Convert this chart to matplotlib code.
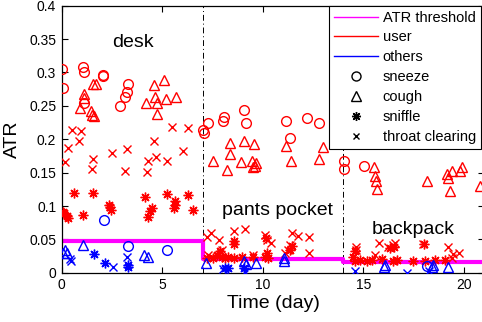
import matplotlib
matplotlib.use("Agg")
import matplotlib.pyplot as plt
from matplotlib.lines import Line2D
from matplotlib.ticker import FuncFormatter

plt.rcParams["font.family"] = ["Liberation Sans", "DejaVu Sans"]

# ── data (x: day, y: ATR) ────────────────────────────────────────
user_sneeze_x = [0.0, 0.05, 1.07, 1.11, 1.12, 2.04, 2.06, 2.9, 3.15, 3.23, 3.28,
                 7.04, 7.09, 7.26, 8.03, 8.08, 9.08, 9.15, 11.15, 11.35, 12.2, 12.8,
                 14.05, 14.05, 15.04]
user_sneeze_y = [0.305, 0.277, 0.308, 0.300, 0.254, 0.294, 0.296, 0.250, 0.264, 0.271, 0.283,
                 0.214, 0.209, 0.225, 0.228, 0.234, 0.244, 0.224, 0.228, 0.202, 0.232, 0.225,
                 0.168, 0.155, 0.160]

user_cough_x = [0.91, 1.09, 1.12, 1.44, 1.49, 1.61, 1.54, 1.7, 4.19, 4.59, 4.64, 4.72, 4.72,
                5.1, 5.17, 5.67,
                7.54, 8.37, 8.37, 8.23, 9.08, 9.57, 8.9, 9.47, 9.66, 9.52, 9.61, 11.15, 11.38,
                12.8, 13.0,
                15.52, 15.57, 15.6, 15.65, 18.14, 19.13, 19.22, 19.3, 19.38, 19.8, 19.88, 20.79]
user_cough_y = [0.247, 0.268, 0.262, 0.243, 0.237, 0.235, 0.283, 0.282, 0.255, 0.281, 0.264,
                0.255, 0.238, 0.288, 0.260, 0.264,
                0.168, 0.195, 0.178, 0.154, 0.198, 0.193, 0.166, 0.168, 0.164, 0.158, 0.160,
                0.190, 0.168, 0.171, 0.189,
                0.158, 0.145, 0.137, 0.125, 0.138, 0.148, 0.142, 0.123, 0.152, 0.153, 0.159, 0.130]

user_sniffle_x = [0.63, 1.57, 0.13, 0.25, 0.33, 0.05, 1.07, 2.35, 2.4, 2.45, 4.14, 4.47, 4.39,
                  4.3, 5.22, 5.63, 5.63, 5.6, 6.26, 6.54,
                  8.58, 8.58, 7.87, 7.95, 7.53, 8.12, 8.58, 8.95, 10.14, 10.19, 10.1, 10.24,
                  11.43, 11.35, 7.2, 8.28, 7.7, 9.52,
                  14.58, 14.49, 14.58, 15.16, 15.41, 15.9, 16.32, 16.53, 16.48, 16.65, 17.47,
                  18.02, 18.06, 18.55, 19.05, 14.83]
user_sniffle_y = [0.119, 0.119, 0.089, 0.085, 0.082, 0.091, 0.087, 0.102, 0.099, 0.094, 0.113,
                  0.097, 0.093, 0.083, 0.118, 0.108, 0.102, 0.097, 0.117, 0.094,
                  0.047, 0.043, 0.032, 0.024, 0.022, 0.022, 0.022, 0.024, 0.052, 0.029, 0.024,
                  0.022, 0.040, 0.034, 0.022, 0.024, 0.027, 0.024,
                  0.032, 0.023, 0.018, 0.018, 0.019, 0.020, 0.037, 0.039, 0.017, 0.019, 0.018,
                  0.043, 0.017, 0.019, 0.019, 0.019]

user_throat_x = [0.53, 0.96, 0.86, 0.30, 0.16, 1.57, 1.49, 2.52, 3.23, 3.15, 4.6, 4.69, 4.3,
                 4.22, 5.22, 5.5, 6.26, 6.05,
                 7.2, 7.42, 7.82, 8.58, 9.11, 7.26, 7.95, 10.1, 10.19, 10.4, 11.43, 11.73,
                 12.29, 12.29, 11.35, 11.26, 11.1, 9.52,
                 14.61, 14.61, 15.77, 15.57, 16.23, 16.48, 16.57, 17.97, 19.22, 19.46, 19.75, 19.38]
user_throat_y = [0.214, 0.213, 0.197, 0.187, 0.166, 0.171, 0.156, 0.179, 0.185, 0.153, 0.197,
                 0.173, 0.168, 0.151, 0.168, 0.218, 0.217, 0.183,
                 0.054, 0.059, 0.049, 0.062, 0.065, 0.027, 0.034, 0.057, 0.049, 0.045, 0.060,
                 0.055, 0.054, 0.030, 0.042, 0.034, 0.029, 0.027,
                 0.039, 0.034, 0.045, 0.027, 0.039, 0.042, 0.044, 0.043, 0.039, 0.028, 0.030, 0.022]

others_sneeze_x = [2.12, 3.31, 5.22, 18.14]
others_sneeze_y = [0.079, 0.040, 0.034, 0.010]

others_cough_x = [0.08, 0.16, 0.25, 1.07, 4.11, 4.27, 7.15, 9.08, 9.15, 9.64, 11.07, 11.07,
                  16.03, 16.07, 18.39, 18.47, 19.18]
others_cough_y = [0.030, 0.034, 0.029, 0.042, 0.027, 0.024, 0.014, 0.018, 0.013, 0.015, 0.022,
                  0.018, 0.008, 0.011, 0.008, 0.011, 0.009]

others_sniffle_x = [1.62, 2.15, 3.31, 3.31, 8.12, 8.28, 9.08]
others_sniffle_y = [0.028, 0.015, 0.009, 0.012, 0.007, 0.007, 0.007]

others_throat_x = [0.46, 0.41, 2.57, 3.23, 8.03, 9.11, 14.58, 17.15, 18.26]
others_throat_y = [0.018, 0.021, 0.009, 0.023, 0.005, 0.001, 0.003, 0.000, 0.002]

# ATR threshold per location (desk, pants pocket, backpack)
seg_edges = [0, 7, 14, 21]
seg_levels = [0.047, 0.021, 0.016]

locations = ["desk", "pants pocket", "backpack"]
loc_x = [3.52, 10.73, 17.47]
loc_y = [0.3375, 0.0868, 0.058]

RED, BLUE, MAG = "#ff0000", "#0000ff", "#ff00ff"
STAR = (8, 2, 0)
MS, MEW = 7.0, 1.0

fig = plt.figure(figsize=(4.82, 3.22), dpi=100)
ax = fig.add_axes([61.7 / 482, (322 - 272.8) / 322, 422.5 / 482, (272.8 - 5.7) / 322])

# threshold as a step line
thr_x, thr_y = [], []
for i, lev in enumerate(seg_levels):
    thr_x += [seg_edges[i], seg_edges[i + 1]]
    thr_y += [lev, lev]
ax.plot(thr_x, thr_y, color=MAG, linewidth=3.0, zorder=2)

# location boundaries
for xb in seg_edges[1:-1]:
    ax.axvline(xb, color="black", linewidth=0.7, linestyle=(0, (6, 3, 1, 3)), zorder=1)

series = [
    (user_sneeze_x, user_sneeze_y, RED, "o"),
    (user_cough_x, user_cough_y, RED, "^"),
    (user_sniffle_x, user_sniffle_y, RED, STAR),
    (user_throat_x, user_throat_y, RED, "x"),
    (others_sneeze_x, others_sneeze_y, BLUE, "o"),
    (others_cough_x, others_cough_y, BLUE, "^"),
    (others_sniffle_x, others_sniffle_y, BLUE, STAR),
    (others_throat_x, others_throat_y, BLUE, "x"),
]
for xs, ys, c, m in series:
    ms = MS - 1.2 if m == "x" else MS
    ax.plot(xs, ys, linestyle="none", marker=m, markersize=ms, markeredgewidth=MEW,
            markeredgecolor=c, markerfacecolor="none", zorder=3)

for name, tx, ty in zip(locations, loc_x, loc_y):
    ax.text(tx, ty, name, fontsize=14, ha="center", va="baseline", zorder=4)

ax.set_xlim(0, 21)
ax.set_ylim(0, 0.4)
ax.set_xticks([0, 5, 10, 15, 20])
ax.set_yticks([i * 0.05 for i in range(9)])
ax.yaxis.set_major_formatter(FuncFormatter(lambda v, p: f"{v:g}"))
ax.tick_params(direction="in", top=True, right=True, length=4, width=0.8,
               labelsize=10, pad=4)
for sp in ax.spines.values():
    sp.set_linewidth(0.9)

ax.set_xlabel("Time (day)", fontsize=14, labelpad=2)
ax.set_ylabel("ATR", fontsize=14, labelpad=6)

# legend
handles = [
    Line2D([], [], color=MAG, linewidth=1.0),
    Line2D([], [], color=RED, linewidth=1.0),
    Line2D([], [], color=BLUE, linewidth=1.0),
    Line2D([], [], linestyle="none", marker="o", color="black", markerfacecolor="none",
           markersize=6.5, markeredgewidth=MEW),
    Line2D([], [], linestyle="none", marker="^", color="black", markerfacecolor="none",
           markersize=6.5, markeredgewidth=MEW),
    Line2D([], [], linestyle="none", marker=STAR, color="black", markersize=6.5,
           markeredgewidth=MEW),
    Line2D([], [], linestyle="none", marker="x", color="black", markersize=5,
           markeredgewidth=MEW),
]
labels = ["ATR threshold", "user", "others", "sneeze", "cough", "sniffle", "throat clearing"]
leg = fig.legend(handles, labels, loc="upper right",
                 bbox_to_anchor=(481 / 482, (322 - 5.5) / 322),
                 bbox_transform=fig.transFigure, borderaxespad=0,
                 fontsize=10.5, handlelength=3.0, handletextpad=0.35,
                 labelspacing=0.4, borderpad=0.35, fancybox=False, framealpha=1)
leg.get_frame().set_edgecolor("black")
leg.get_frame().set_linewidth(0.8)

fig.savefig("out.png", dpi=100)
